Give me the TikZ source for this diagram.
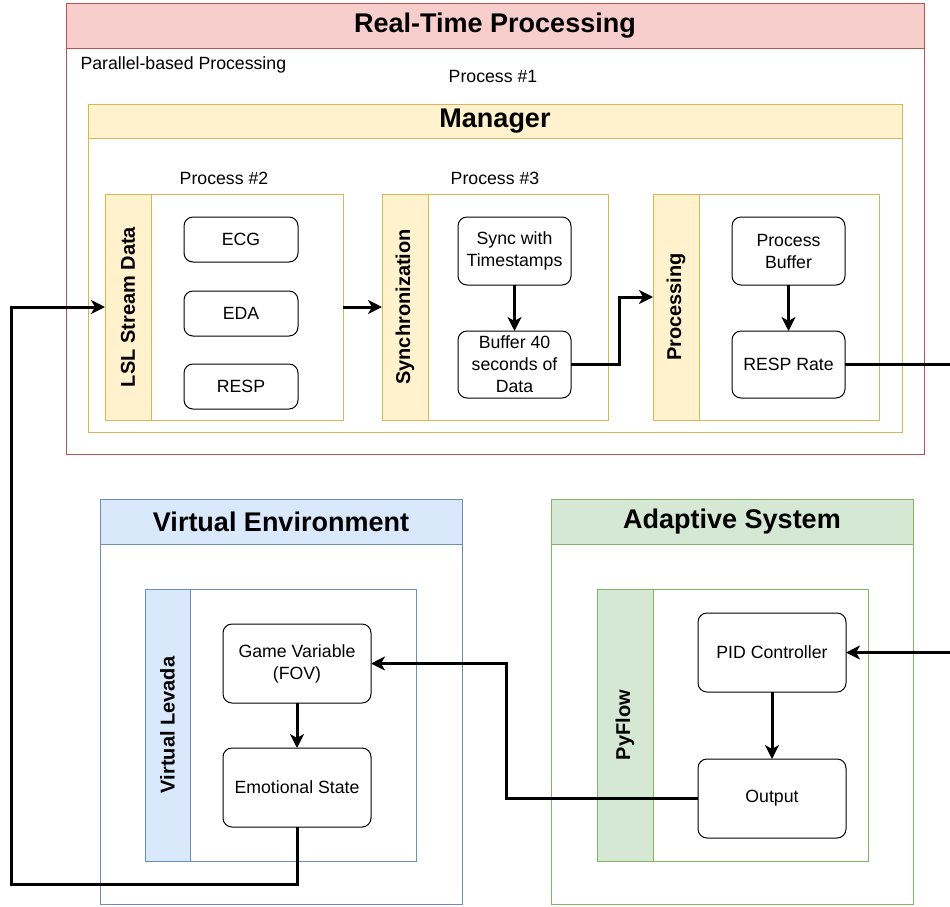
\documentclass[tikz,border=0pt]{standalone}
\usepackage{fontspec}
\setmainfont{Liberation Sans}
\usetikzlibrary{arrows.meta,calc}
\definecolor{redfill}{HTML}{F8CECC}
\definecolor{redline}{HTML}{B85450}
\definecolor{yelfill}{HTML}{FFF2CC}
\definecolor{yelline}{HTML}{D6B656}
\definecolor{bluefill}{HTML}{DAE8FC}
\definecolor{blueline}{HTML}{6C8EBF}
\definecolor{grnfill}{HTML}{D5E8D4}
\definecolor{grnline}{HTML}{82B366}
\begin{document}
\begin{tikzpicture}[x=1pt,y=-1pt,
 frame/.style={draw, inner sep=0pt, outer sep=0pt, anchor=north west, line width=1pt},
 title/.style={font=\fontsize{27}{32}\selectfont\bfseries},
 lanetxt/.style={font=\fontsize{20}{24}\selectfont\bfseries, rotate=90, inner sep=0pt},
 txt/.style={font=\fontsize{17.7}{22}\selectfont, align=center},
 card/.style={draw=black, line width=1pt, rounded corners=9pt, fill=white, txt, inner sep=0pt, outer sep=0pt, anchor=north west},
 conn/.style={line width=3pt, draw=black},
 arr/.style={conn, -{Stealth[length=14pt,width=14pt,inset=4pt]}},
]
\useasboundingbox (0,0) rectangle (950,906);
\fill[white] (0,0) rectangle (950,906);

% Real-Time Processing
\node[frame, draw=redline, fill=white, minimum width=858pt, minimum height=451pt] (rtp) at (66,3) {};
\node[frame, draw=redline, fill=redfill, minimum width=858pt, minimum height=45pt, title] (rtph) at (66,3) {Real-Time Processing};
\node[txt, anchor=west] (par) at (77,65) {Parallel-based Processing};
\node[txt] (p1) at (493,76) {Process \#1};

% Manager
\node[frame, draw=yelline, fill=white, minimum width=814pt, minimum height=328pt] (mgr) at (88,104) {};
\node[frame, draw=yelline, fill=yelfill, minimum width=814pt, minimum height=34pt, title] (mgrh) at (88,104) {Manager};
\node[txt] (p2) at (224,178) {Process \#2};
\node[txt] (p3) at (495,178) {Process \#3};

% LSL lane
\node[frame, draw=yelline, fill=white, minimum width=238pt, minimum height=226pt] (lsl) at (105,194) {};
\node[frame, draw=yelline, fill=yelfill, minimum width=46pt, minimum height=226pt] (lslh) at (105,194) {};
\node[lanetxt] (lslt) at (lslh.center) {LSL Stream Data};
\node[card, minimum width=114pt, minimum height=45pt] (ecg) at (184,217) {ECG};
\node[card, minimum width=114pt, minimum height=45pt] (eda) at (184,291) {EDA};
\node[card, minimum width=114pt, minimum height=45pt] (resp) at (184,364) {RESP};

% Synchronization lane
\node[frame, draw=yelline, fill=white, minimum width=226pt, minimum height=226pt] (sync) at (382,194) {};
\node[frame, draw=yelline, fill=yelfill, minimum width=46pt, minimum height=226pt] (synch) at (382,194) {};
\node[lanetxt] (synct) at (synch.center) {Synchronization};
\node[card, minimum width=113pt, minimum height=68pt] (ts) at (458,217) {Sync with\\Timestamps};
\node[card, minimum width=113pt, minimum height=67pt] (buf) at (458,331) {Buffer 40\\seconds of\\Data};

% Processing lane
\node[frame, draw=yelline, fill=white, minimum width=226pt, minimum height=226pt] (proc) at (653,194) {};
\node[frame, draw=yelline, fill=yelfill, minimum width=46pt, minimum height=226pt] (proch) at (653,194) {};
\node[lanetxt] (proct) at (proch.center) {Processing};
\node[card, minimum width=113pt, minimum height=68pt] (pbuf) at (732,217) {Process\\Buffer};
\node[card, minimum width=113pt, minimum height=67pt] (rr) at (732,331) {RESP Rate};

% Virtual Environment
\node[frame, draw=blueline, fill=white, minimum width=362pt, minimum height=405pt] (ve) at (100,499) {};
\node[frame, draw=blueline, fill=bluefill, minimum width=362pt, minimum height=45pt, title] (veh) at (100,499) {Virtual Environment};
\node[frame, draw=blueline, fill=white, minimum width=271pt, minimum height=272pt] (lev) at (145,589) {};
\node[frame, draw=blueline, fill=bluefill, minimum width=45pt, minimum height=272pt] (levh) at (145,589) {};
\node[lanetxt] (levt) at (levh.center) {Virtual Levada};
\node[card, minimum width=148pt, minimum height=79pt] (gv) at (223,624) {Game Variable\\(FOV)};
\node[card, minimum width=148pt, minimum height=79pt] (emo) at (223,748) {Emotional State};

% Adaptive System
\node[frame, draw=grnline, fill=white, minimum width=362pt, minimum height=405pt] (as) at (551,499) {};
\node[frame, draw=grnline, fill=grnfill, minimum width=362pt, minimum height=45pt, title] (ash) at (551,499) {Adaptive System};
\node[frame, draw=grnline, fill=white, minimum width=271pt, minimum height=272pt] (pyf) at (597,589) {};
\node[frame, draw=grnline, fill=grnfill, minimum width=56pt, minimum height=272pt] (pyfh) at (597,589) {};
\node[lanetxt] (pyft) at (pyfh.center) {PyFlow};
\node[card, minimum width=148pt, minimum height=79pt] (pid) at (698,613) {PID Controller};
\node[card, minimum width=148pt, minimum height=79pt] (out) at (698,759) {Output};

% free ends at the right edge
\coordinate (rout) at (950,364.5);
\coordinate (pin) at (950,652.5);

% connectors
\draw[arr] (lsl.east) -- (sync.west);
\draw[arr] (ts.south) -- (buf.north);
\draw[arr] (buf.east) -- ++(48,0) |- ([yshift=10pt]proc.west);
\draw[arr] (pbuf.south) -- (rr.north);
\draw[conn] (rr.east) -- (rout);
\draw[arr] (pin) -- (pid.east);
\draw[arr] (pid.south) -- (out.north);
\draw[arr] (out.west) -- ++(-192,0) |- (gv.east);
\draw[arr] (gv.south) -- (emo.north);
\draw[arr] (emo.south) -- ++(0,57) -| ([xshift=-94pt]lsl.west) -- (lsl.west);
\end{tikzpicture}
\end{document}
